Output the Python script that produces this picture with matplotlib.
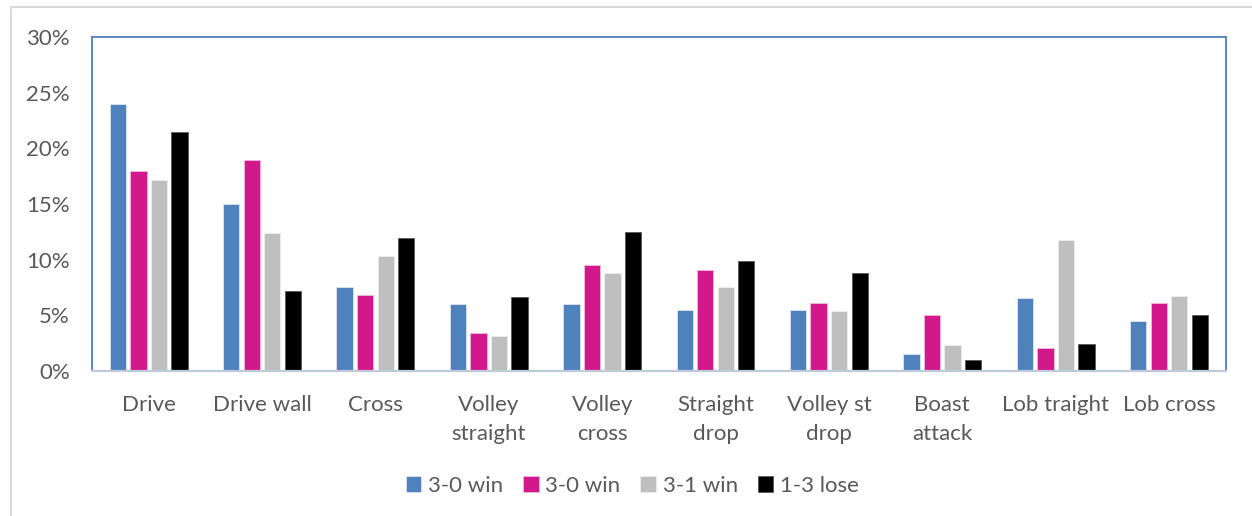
import numpy as np
import matplotlib
matplotlib.use('Agg')
import matplotlib.pyplot as plt
from matplotlib.patches import Rectangle
from matplotlib.ticker import FuncFormatter

# shot types and share of shots (%) per match result
shots = ['Drive', 'Drive wall', 'Cross', 'Volley\nstraight', 'Volley\ncross',
         'Straight\ndrop', 'Volley st\ndrop', 'Boast\nattack', 'Lob traight', 'Lob cross']
series_names = ['3-0 win', '3-0 win', '3-1 win', '1-3 lose']
win30_a = [24.0, 15.0, 7.5, 6.0, 6.0, 5.5, 5.5, 1.5, 6.5, 4.5]
win30_b = [18.0, 19.0, 6.8, 3.4, 9.5, 9.1, 6.1, 5.0, 2.0, 6.1]
win31 = [17.2, 12.4, 10.3, 3.1, 8.8, 7.5, 5.4, 2.3, 11.8, 6.7]
lose13 = [21.5, 7.2, 11.9, 6.6, 12.5, 9.9, 8.8, 1.0, 2.4, 5.0]
colors = ['#4F81BD', '#D1198B', '#BFBFBF', '#000000']
edges = ['#DCE6F2', '#F2B8DC', '#EDEDED', '#595959']

plt.rcParams['font.family'] = ['Lato', 'DejaVu Sans']
text_color = '#595959'
fsize = 16

fig = plt.figure(figsize=(12.52, 5.16), dpi=100)
fig.patches.append(Rectangle((11 / 1252, -0.1), 1.2, 1 - 7 / 516 + 0.1,
                             transform=fig.transFigure, fill=False,
                             edgecolor='#D9D9D9', linewidth=1.5))

ax = fig.add_axes([92 / 1252, 1 - 370.7 / 516, (1225.7 - 92) / 1252, (370.7 - 37.3) / 516])

x = np.arange(len(shots))
pitch = 0.181
width = 0.144
for i, vals in enumerate([win30_a, win30_b, win31, lose13]):
    ax.bar(x + (i - 1.5) * pitch, vals, width, color=colors[i],
           edgecolor=edges[i], linewidth=0.6, label=series_names[i])

ax.set_xlim(-0.5, len(shots) - 0.5)
ax.set_ylim(0, 30)
ax.set_yticks(range(0, 31, 5))
ax.yaxis.set_major_formatter(FuncFormatter(lambda v, p: f'{v:.0f}%'))
ax.set_xticks(x)
ax.set_xticklabels(shots, linespacing=1.55)
ax.tick_params(axis='y', length=0, pad=16, labelsize=fsize, labelcolor=text_color)
ax.tick_params(axis='x', length=0, pad=17.5, labelsize=fsize, labelcolor=text_color)

for side in ['left', 'top', 'right']:
    ax.spines[side].set_color('#5B87C0')
    ax.spines[side].set_linewidth(1.4)
ax.spines['bottom'].set_color('#BFC9D9')
ax.spines['bottom'].set_linewidth(1.6)

leg = fig.legend(loc='center', bbox_to_anchor=(0.505, 1 - 486 / 516), ncol=4,
                 frameon=False, fontsize=fsize, handlelength=0.7, handleheight=0.7,
                 handletextpad=0.3, columnspacing=0.9)
for t in leg.get_texts():
    t.set_color(text_color)

fig.savefig('out.png', dpi=100)
